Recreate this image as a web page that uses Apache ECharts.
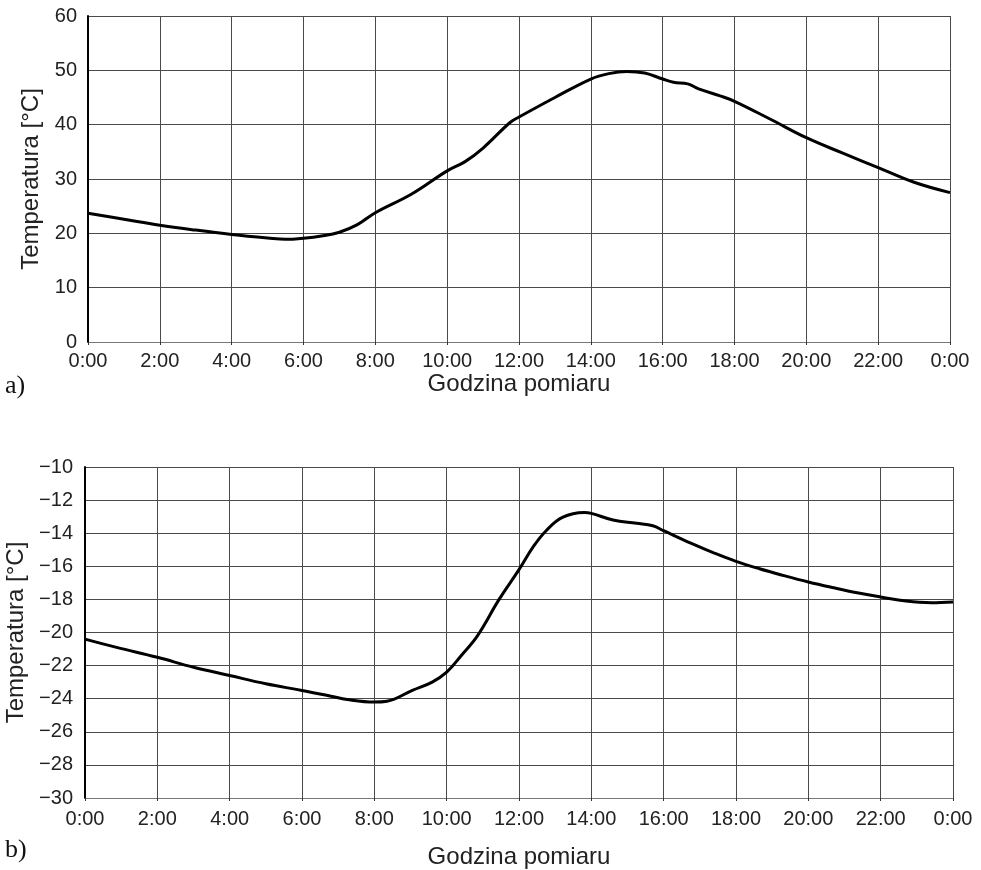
<!DOCTYPE html>
<html>
<head>
<meta charset="utf-8">
<script src="https://cdn.jsdelivr.net/npm/echarts@6/dist/echarts.min.js"></script>
<style>
  html, body { margin: 0; padding: 0; background: #fff; }
  #chart { width: 981px; height: 870px; }
</style>
</head>
<body>
<div id="chart"></div>
<script>
// a) - godziny i temperatury (odczytane z wykresu)
var hoursA = [0, 1, 2, 3, 4, 5, 5.5, 6, 6.5, 7, 7.5, 8, 9, 10, 10.5, 11, 11.75, 12, 13, 14, 14.5, 15, 15.5, 16, 16.3, 16.7, 17, 17.6, 18, 19, 20, 21, 22, 23, 24];
var tempA = [23.7, 22.6, 21.5, 20.6, 19.8, 19.15, 18.9, 19.1, 19.5, 20.2, 21.6, 23.8, 27.2, 31.5, 33.2, 35.7, 40.4, 41.4, 45.0, 48.4, 49.4, 49.8, 49.5, 48.4, 47.8, 47.5, 46.6, 45.3, 44.3, 41.0, 37.6, 34.8, 32.1, 29.4, 27.5];

// b) - godziny i temperatury
var hoursB = [0, 0.87, 2, 3, 4, 5, 6, 6.8, 7.25, 8, 8.35, 9.05, 9.6, 10, 10.4, 10.85, 11.45, 12, 12.4, 12.75, 13.2, 13.8, 14, 14.6, 15.25, 15.7, 16, 16.75, 17.4, 18, 18.65, 19.3, 20, 20.7, 21.35, 22, 22.7, 23.4, 24];
var tempB = [-20.4, -20.9, -21.5, -22.1, -22.6, -23.1, -23.5, -23.85, -24.05, -24.2, -24.15, -23.5, -23.0, -22.4, -21.4, -20.2, -18.0, -16.2, -14.8, -13.85, -13.05, -12.75, -12.8, -13.2, -13.4, -13.55, -13.85, -14.6, -15.2, -15.7, -16.15, -16.55, -16.95, -17.3, -17.6, -17.85, -18.1, -18.2, -18.15];

// etykiety osi X
var xTickLabels = ['0:00', '2:00', '4:00', '6:00', '8:00', '10:00', '12:00', '14:00', '16:00', '18:00', '20:00', '22:00', '0:00'];

function toPairs(xs, ys) {
    let out = [];
    for (let i = 0; i < xs.length; i++) {
        out.push([xs[i], ys[i]]);
    }
    return out;
}

let font = 'Liberation Sans, Arial, sans-serif';
let gridColor = '#4a4a4a';

function xAxisCfg(gridIndex, nameGap, labelMargin) {
    return {
        type: 'value',
        gridIndex: gridIndex,
        min: 0,
        max: 24,
        interval: 2,
        name: 'Godzina pomiaru',
        nameLocation: 'middle',
        nameGap: nameGap,
        nameTextStyle: { fontFamily: font, fontSize: 24, color: '#222' },
        axisLine: { show: true, lineStyle: { color: '#777', width: 1 } },
        axisTick: { show: true, length: 3, lineStyle: { color: '#333' } },
        axisLabel: {
            fontFamily: font, fontSize: 20, color: '#222', margin: labelMargin,
            formatter: function (v) { return xTickLabels[Math.round(v / 2)]; }
        },
        splitLine: { show: true, lineStyle: { color: gridColor, width: 1 } }
    };
}

function yAxisCfg(gridIndex, min, max, interval, nameGap, labelMargin) {
    return {
        type: 'value',
        gridIndex: gridIndex,
        min: min,
        max: max,
        interval: interval,
        name: 'Temperatura [°C]',
        nameLocation: 'middle',
        nameRotate: 90,
        nameGap: nameGap,
        nameTextStyle: { fontFamily: font, fontSize: 24, color: '#222' },
        axisLine: { show: true, lineStyle: { color: '#000', width: 2 } },
        axisTick: { show: false },
        axisLabel: {
            fontFamily: font, fontSize: 20, color: '#222', margin: labelMargin,
            formatter: function (v) { return String(v).replace('-', '\u2212'); }
        },
        splitLine: { show: true, lineStyle: { color: gridColor, width: 1 } }
    };
}

let option = {
    animation: false,
    backgroundColor: '#fff',
    grid: [
        { left: 88, right: 31, top: 16, height: 326, containLabel: false, outerBoundsMode: 'none' },
        { left: 85, right: 28, top: 467, height: 331, containLabel: false, outerBoundsMode: 'none' }
    ],
    xAxis: [xAxisCfg(0, 25, 9), xAxisCfg(1, 47, 11)],
    yAxis: [yAxisCfg(0, 0, 60, 10, 45, 11), yAxisCfg(1, -30, -10, 2, 49, 12)],
    graphic: [
        { type: 'text', left: 5, top: 373, style: { text: 'a)', font: '26px "Liberation Serif", "Times New Roman", serif', fill: '#111' } },
        { type: 'text', left: 5, top: 837, style: { text: 'b)', font: '26px "Liberation Serif", "Times New Roman", serif', fill: '#111' } }
    ],
    series: [
        {
            type: 'line', xAxisIndex: 0, yAxisIndex: 0,
            data: toPairs(hoursA, tempA),
            smooth: 0.4, showSymbol: false,
            lineStyle: { color: '#000', width: 3 }
        },
        {
            type: 'line', xAxisIndex: 1, yAxisIndex: 1,
            data: toPairs(hoursB, tempB),
            smooth: 0.4, showSymbol: false,
            lineStyle: { color: '#000', width: 3 }
        }
    ]
};

let chart = echarts.init(document.getElementById('chart'), null, { renderer: 'canvas' });
chart.setOption(option);
</script>
</body>
</html>
